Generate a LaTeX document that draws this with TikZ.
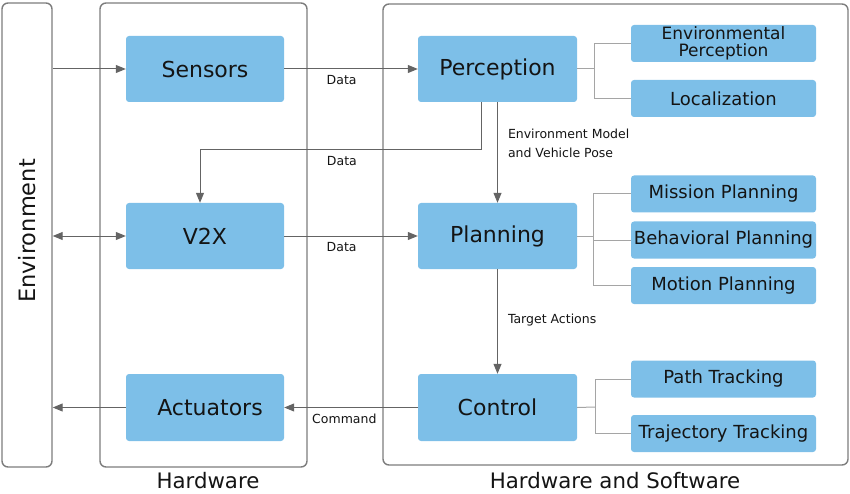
\documentclass[tikz,border=0pt]{standalone}
\usepackage{fontspec}
\setmainfont{DejaVu Sans}
\usetikzlibrary{arrows.meta}
\definecolor{boxblue}{RGB}{125,191,232}
\definecolor{framegray}{RGB}{125,125,125}
\definecolor{arrgray}{RGB}{100,100,100}
\definecolor{treegray}{RGB}{165,165,165}
\definecolor{txt}{RGB}{20,20,20}
\tikzset{
  frame/.style={draw=framegray, line width=1.4pt, rounded corners=6pt, inner sep=0pt},
  mainbox/.style={fill=boxblue, rounded corners=3pt, minimum width=158pt, minimum height=66pt,
     text=txt, font=\fontsize{22}{24}\selectfont, inner sep=0pt},
  subbox/.style={fill=boxblue, rounded corners=3pt, minimum width=185pt, minimum height=37pt,
     text=txt, font=\fontsize{18}{20}\selectfont, inner sep=0pt, align=center},
  arr/.style={draw=arrgray, line width=1pt, -{Triangle[length=10pt,width=8pt]}},
  tree/.style={draw=treegray, line width=1pt},
  lbl/.style={text=txt, font=\fontsize{12.5}{19.5}\selectfont, inner sep=0pt},
  biglbl/.style={text=txt, font=\fontsize{21.3}{24}\selectfont, inner sep=0pt}
}
\begin{document}
\begin{tikzpicture}[x=1pt,y=-1pt]
\useasboundingbox (0,0) rectangle (850,494);
% containers
\node[frame, minimum width=50pt, minimum height=464pt] (env) at (27,235) {};
\node[biglbl, rotate=90, font=\fontsize{22.5}{24}\selectfont] (envt) at (27,231) {Environment};
\node[frame, minimum width=207pt, minimum height=464pt] (hw) at (203.5,235) {};
\node[frame, minimum width=465pt, minimum height=461pt] (hs) at (615.5,234.5) {};
\node[biglbl] (hwl) at (208,481) {Hardware};
\node[biglbl] (hsl) at (615,481) {Hardware and Software};
% main boxes
\node[mainbox] (sens) at (205,69) {Sensors};
\node[mainbox] (v2x) at (205,236) {V2X};
\node[mainbox, minimum height=67pt] (act) at (205,407.5) {\hspace{10pt}Actuators};
\node[mainbox, minimum width=159pt] (perc) at (497.5,69) {Perception};
\node[mainbox, minimum width=159pt] (plan) at (497.5,236) {Planning};
\node[mainbox, minimum width=159pt, minimum height=67pt] (ctrl) at (497.5,407.5) {Control};
% sub boxes
\node[subbox, font=\fontsize{17}{16.5}\selectfont] (envp) at (723.5,43.5) {Environmental\\Perception};
\node[subbox] (loc) at (723.5,98.5) {Localization};
\node[subbox] (mis) at (723.5,194) {Mission Planning};
\node[subbox] (beh) at (723.5,240) {Behavioral Planning};
\node[subbox] (mot) at (723.5,285.5) {Motion Planning};
\node[subbox] (path) at (723.5,379) {Path Tracking};
\node[subbox] (traj) at (723.5,433.5) {Trajectory Tracking};
% tree connectors
\coordinate (tp) at (594,69);
\draw[tree] (perc.east) -- (tp);
\draw[tree] (envp.west) -| (tp) |- (loc.west);
\coordinate (tq) at (593,236);
\draw[tree] (plan.east) -- (tq);
\draw[tree] (mis.west) -| (tq) |- (mot.west);
\draw[tree] (tq |- beh.west) -- (beh.west);
\coordinate (tr) at (595,407);
\draw[tree] (ctrl.east) -- (tr);
\draw[tree] (path.west) -| (tr) |- (traj.west);
% arrows
\draw[arr] (sens.west -| env.east) -- (sens.west);
\draw[arr] (sens.east) -- node[lbl, pos=0.43, below, yshift=-6pt] {Data} (perc.west);
\coordinate (pd1) at (481,150);
\coordinate (pd2) at (200,150);
\draw[arr] (perc.south -| pd1) -- (pd1) -- node[lbl, pos=0.495, below, yshift=-6pt] {Data} (pd2) -- (v2x.north -| pd2);
\draw[arr] (perc.south) -- node[lbl, pos=0.41, right, xshift=10pt, align=left] {Environment Model\\and Vehicle Pose} (plan.north);
\draw[arr, {Triangle[length=10pt,width=8pt]}-{Triangle[length=10pt,width=8pt]}] (v2x.west -| env.east) -- (v2x.west);
\draw[arr] (v2x.east) -- node[lbl, pos=0.43, below, yshift=-6pt] {Data} (plan.west);
\draw[arr] (plan.south) -- node[lbl, pos=0.49, right, xshift=10pt] {Target Actions} (ctrl.north);
\draw[arr] (ctrl.west) -- node[lbl, pos=0.55, below, yshift=-6pt] {Command} (act.east);
\draw[arr] (act.west) -- (act.west -| env.east);
\end{tikzpicture}
\end{document}
